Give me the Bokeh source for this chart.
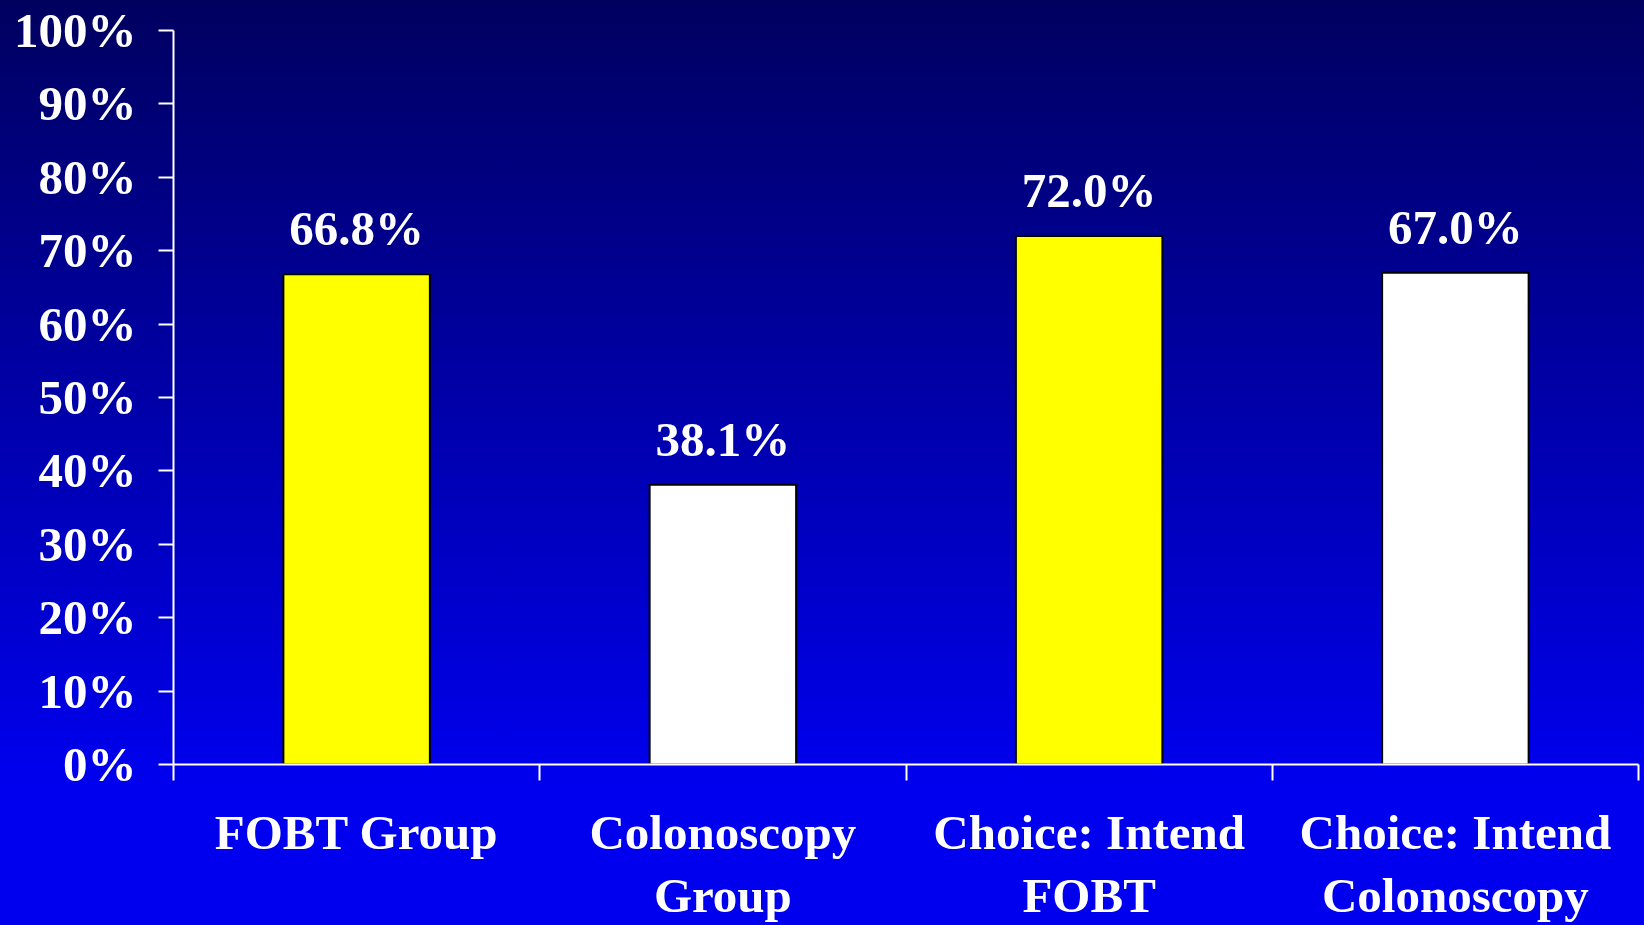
from bokeh.plotting import figure
from bokeh.models import Range1d, FixedTicker, PrintfTickFormatter, ColumnDataSource, LabelSet
from bokeh.embed import file_html
from bokeh.resources import INLINE

# Screening completion by group
categories = ["FOBT Group", "Colonoscopy\nGroup", "Choice: Intend\nFOBT", "Choice: Intend\nColonoscopy"]
values = [66.8, 38.1, 72.0, 67.0]
y_ticks = [0, 10, 20, 30, 40, 50, 60, 70, 80, 90, 100]

bar_colors = ["#FFFF00", "#FFFFFF", "#FFFF00", "#FFFFFF"]
FONT = "Liberation Serif"
FS = "49px"

n = len(categories)
centers = [i + 0.5 for i in range(n)]
bounds = [float(i) for i in range(n + 1)]

src = ColumnDataSource(dict(
    x=centers,
    top=values,
    color=bar_colors,
    label=[f"{v:.1f}%" for v in values],
))

p = figure(width=1644, height=925, output_backend="svg", toolbar_location=None,
           x_range=Range1d(0, n), y_range=Range1d(0, 100),
           min_border_left=173, min_border_right=6, min_border_top=30, min_border_bottom=160)

p.background_fill_color = None
p.border_fill_color = None
p.outline_line_color = None
p.styles = {"background": "linear-gradient(180deg, #000060 0px, #0000EE 780px, #0000EE 925px)"}
p.xgrid.visible = False
p.ygrid.visible = False

p.vbar(x="x", top="top", width=0.4, source=src, fill_color="color",
       line_color="black", line_width=2)

p.add_layout(LabelSet(x="x", y="top", text="label", source=src, y_offset=29,
                      text_align="center", text_baseline="alphabetic",
                      text_font=FONT, text_font_style="bold", text_font_size=FS,
                      text_color="white"))

# y axis
ya = p.yaxis[0]
ya.ticker = FixedTicker(ticks=y_ticks)
ya.formatter = PrintfTickFormatter(format="%d%%")
ya.axis_line_color = "white"
ya.axis_line_width = 2
ya.major_tick_line_color = "white"
ya.major_tick_line_width = 2
ya.major_tick_out = 15
ya.major_tick_in = 0
ya.minor_tick_line_color = None
ya.major_label_standoff = 22
ya.major_label_text_font = FONT
ya.major_label_text_font_style = "bold"
ya.major_label_text_font_size = FS
ya.major_label_text_color = "white"

# x axis: names at category centers, tick marks at category boundaries
xa = p.xaxis[0]
xa.ticker = FixedTicker(ticks=centers, minor_ticks=bounds)
xa.major_label_overrides = {c: lab for c, lab in zip(centers, categories)}
xa.axis_line_color = "white"
xa.axis_line_width = 2
xa.major_tick_line_color = None
xa.major_tick_out = 16
xa.major_tick_in = 0
xa.minor_tick_line_color = "white"
xa.minor_tick_line_width = 2
xa.minor_tick_out = 16
xa.minor_tick_in = 0
xa.major_label_standoff = 24
xa.major_label_text_font = FONT
xa.major_label_text_font_style = "bold"
xa.major_label_text_font_size = FS
xa.major_label_text_color = "white"
xa.major_label_text_line_height = 1.15

open("out.html", "w").write(file_html(p, INLINE))
